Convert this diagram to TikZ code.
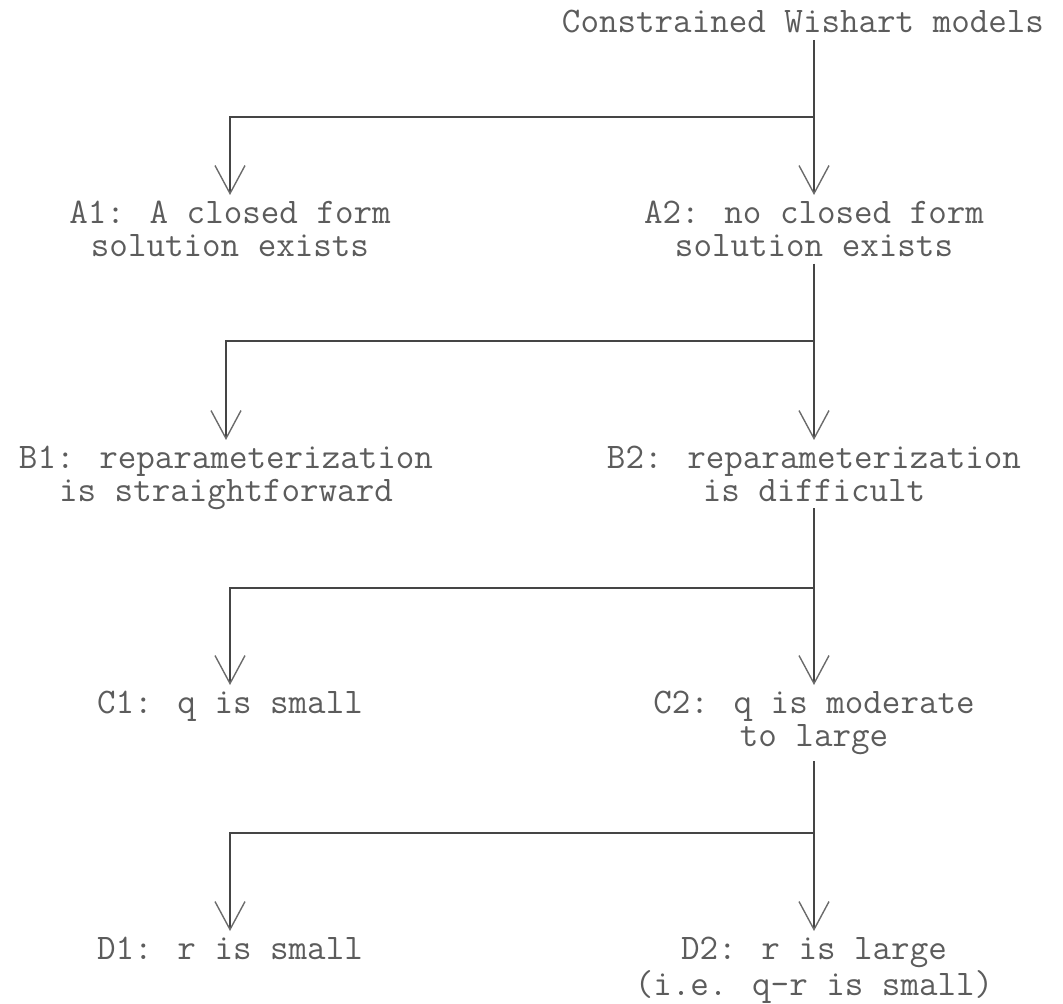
\documentclass[tikz,border=0pt]{standalone}
\usepackage{fontspec}
\usetikzlibrary{arrows.meta}
\pgfdeclarelayer{edgelayer}
\pgfdeclarelayer{nodelayer}
\pgfsetlayers{edgelayer,nodelayer,main}
\definecolor{typeink}{gray}{0.36}
\definecolor{lineink}{gray}{0.27}
\definecolor{tipink}{gray}{0.42}
\tikzstyle{casetext}=[align=center, inner sep=3pt, text=typeink, font=\ttfamily\fontsize{18}{16.5}\selectfont]
\tikzstyle{flow}=[draw=lineink, line width=1pt, -{Straight Barb[length=14pt,width=15pt,line width=0.7pt,color=tipink]}]

\begin{document}
\begin{tikzpicture}[x=0.5pt, y=-0.5pt]
			\useasboundingbox (0, 0) rectangle (1063, 1004);
			\begin{pgfonlayer}{nodelayer}
			\node [style=casetext] (title) at (803, 22) {Constrained Wishart models};
			\node [style=casetext, anchor=north] (a1) at (230, 195) {A1: A closed form\\solution exists};
			\node [style=casetext, anchor=north] (a2) at (814, 195) {A2: no closed form\\solution exists};
			\node [style=casetext, anchor=north] (b1) at (226, 440) {B1: reparameterization\\is straightforward};
			\node [style=casetext, anchor=north] (b2) at (814, 440) {B2: reparameterization\\is difficult};
			\node [style=casetext, anchor=north] (c1) at (230, 685) {C1: q is small};
			\node [style=casetext, anchor=north] (c2) at (814, 685) {C2: q is moderate\\to large};
			\node [style=casetext, anchor=north] (d1) at (230, 931) {D1: r is small};
			\node [style=casetext, anchor=north] (d2) at (814, 931) {D2: r is large\\(i.e. q-r is small)};
			\coordinate (j1) at (814, 117);
			\coordinate (j2) at (814, 341);
			\coordinate (j3) at (814, 588);
			\coordinate (j4) at (814, 833);
			\end{pgfonlayer}
			\begin{pgfonlayer}{edgelayer}
			\draw [style=flow] (title.south -| a2) -- (a2);
			\draw [style=flow] (j1) -| (a1);
			\draw [style=flow] (a2) -- (b2);
			\draw [style=flow] (j2) -| (b1);
			\draw [style=flow] (b2) -- (c2);
			\draw [style=flow] (j3) -| (c1);
			\draw [style=flow] (c2) -- (d2);
			\draw [style=flow] (j4) -| (d1);
			\end{pgfonlayer}
\end{tikzpicture}
\end{document}
